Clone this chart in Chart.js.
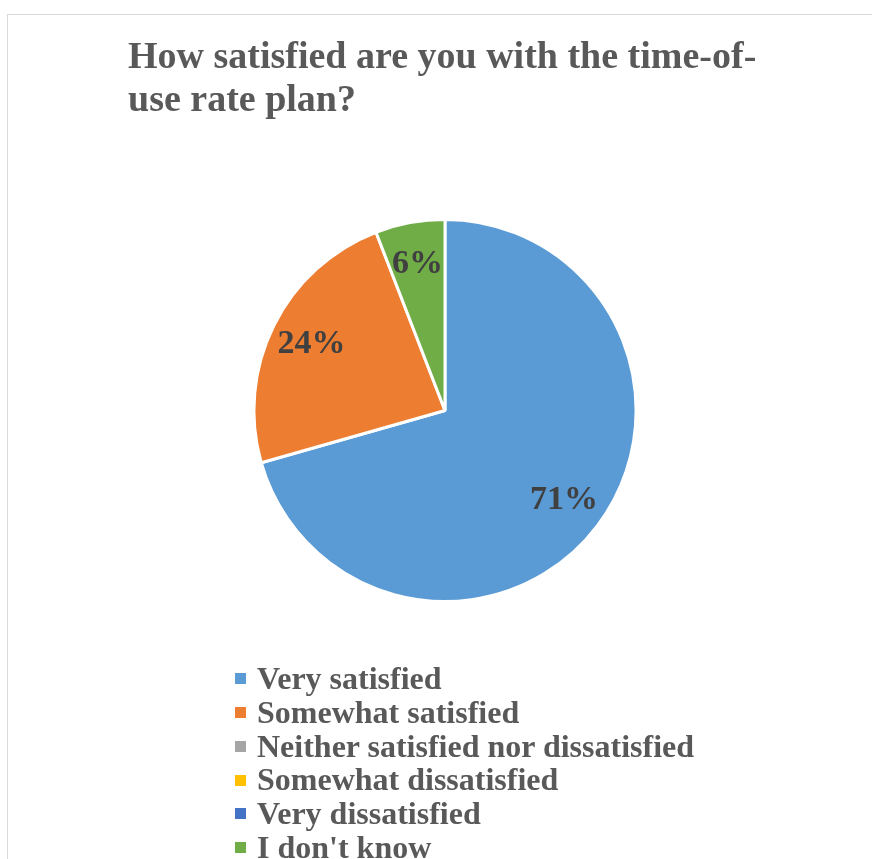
<!DOCTYPE html>
<html>
<head>
<meta charset="utf-8">
<script src="https://cdn.jsdelivr.net/npm/chart.js@4.4.1/dist/chart.umd.min.js"></script>
<style>
  html, body { margin: 0; padding: 0; background: #fff; }
  #wrap { position: relative; width: 872px; height: 859px; overflow: hidden; }
  #frame { position: absolute; left: 7px; top: 14px; width: 880px; height: 880px; border: 1px solid #d9d9d9; box-sizing: border-box; }
  #c { position: absolute; left: 0; top: 0; }
  #legend { position: absolute; left: 235px; top: 662px; margin: 0; padding: 0; list-style: none;
    font-family: "Liberation Serif", "Times New Roman", serif; font-weight: bold; font-size: 32px; color: #595959; }
  #legend li { height: 33.8px; line-height: 33.8px; white-space: nowrap; }
  #legend span.box { display: inline-block; width: 11px; height: 11px; margin-right: 11px; vertical-align: middle; position: relative; top: -3px; }
</style>
</head>
<body>
<div id="wrap">
  <div id="frame"></div>
  <canvas id="c" width="872" height="859"></canvas>
  <ul id="legend"></ul>
</div>
<script>
const titleLines = ["How satisfied are you with the time-of-", "use rate plan?"];
const categories = ["Very satisfied", "Somewhat satisfied", "Neither satisfied nor dissatisfied", "Somewhat dissatisfied", "Very dissatisfied", "I don't know"];
const responses = [12, 4, 0, 0, 0, 1];
const sliceColors = ["#5B9BD5", "#ED7D31", "#A5A5A5", "#FFC000", "#4472C4", "#70AD47"];

const pctLabels = {
  id: 'pctLabels',
  afterDatasetsDraw(chart) {
    const ctx = chart.ctx;
    const meta = chart.getDatasetMeta(0);
    const data = chart.data.datasets[0].data;
    const total = data.reduce((a, b) => a + b, 0);
    ctx.save();
    ctx.font = 'bold 34px "Liberation Serif", "Times New Roman", serif';
    ctx.fillStyle = '#404040';
    ctx.textAlign = 'center';
    ctx.textBaseline = 'middle';
    meta.data.forEach((arc, i) => {
      const v = data[i];
      if (!v) return;
      const p = arc.getProps(['x', 'y', 'startAngle', 'endAngle', 'outerRadius'], true);
      const mid = (p.startAngle + p.endAngle) / 2;
      const r = p.outerRadius * 0.78;
      ctx.fillText(Math.round(v / total * 100) + '%', p.x + Math.cos(mid) * r, p.y + Math.sin(mid) * r);
    });
    ctx.restore();
  }
};

new Chart(document.getElementById('c'), {
  type: 'pie',
  data: {
    labels: categories,
    datasets: [{ data: responses, backgroundColor: sliceColors, borderColor: '#ffffff', borderWidth: 3 }]
  },
  options: {
    responsive: false,
    animation: false,
    layout: { padding: { left: 128, right: 110, top: 0, bottom: 256 } },
    plugins: {
      legend: { display: false },
      tooltip: { enabled: false },
      title: {
        display: true,
        text: titleLines,
        align: 'start',
        color: '#595959',
        font: { family: '"Liberation Serif", "Times New Roman", serif', weight: 'bold', size: 38, lineHeight: 1.13 },
        padding: { top: 37, bottom: 95 }
      }
    }
  },
  plugins: [pctLabels]
});

const ul = document.getElementById('legend');
categories.forEach((name, i) => {
  const li = document.createElement('li');
  const b = document.createElement('span');
  b.className = 'box';
  b.style.background = sliceColors[i];
  li.appendChild(b);
  li.appendChild(document.createTextNode(name));
  ul.appendChild(li);
});
</script>
</body>
</html>
